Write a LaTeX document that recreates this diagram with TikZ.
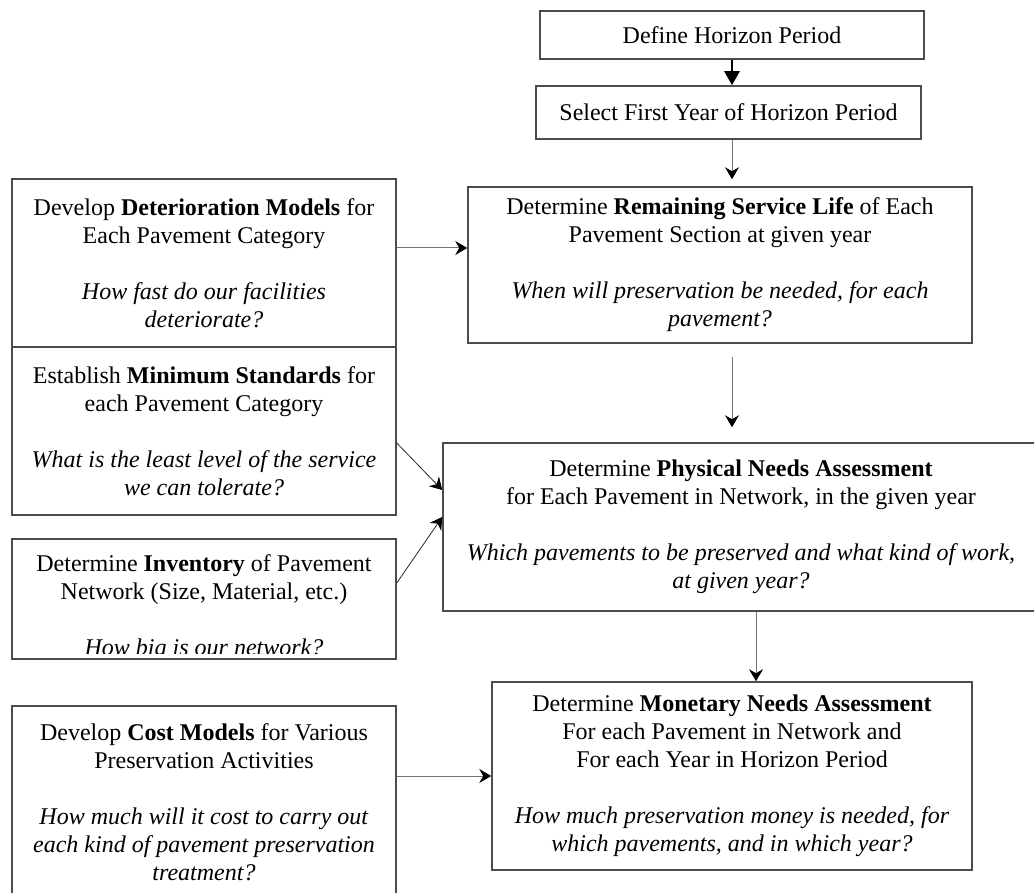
\documentclass[tikz,border=0pt]{standalone}
\usepackage{fontspec}
\setmainfont{Liberation Serif}
\usetikzlibrary{arrows.meta,positioning}

\begin{document}
\begin{tikzpicture}[x=0.5pt,y=-0.5pt,>={Stealth[length=6pt,width=7pt,inset=2pt,color=black]},
  box/.style={draw=black!70,line width=0.75pt,align=center,inner sep=0pt,font=\fontsize{12}{14}\selectfont},
  line/.style={draw=black!55,line width=0.5pt},
  diag/.style={draw=black!85,line width=0.4pt}]
\useasboundingbox (0,0) rectangle (1034,893);
          \node[box,minimum width=192pt,minimum height=24pt] (n_1) at (732,35) {Define Horizon Period};
          \node[box,minimum width=192.5pt,minimum height=26.5pt] (n_2) at (728.5,112.5) {Select First Year of Horizon Period};
          \node[box,minimum width=192pt,minimum height=84pt] (n_3) at (204,263) {Develop \textbf{Deterioration Models} for\\Each Pavement Category\\[14pt]\textit{How fast do our facilities}\\\textit{deteriorate?}};
          \node[box,minimum width=252pt,minimum height=78pt] (n_4) at (720,265) {Determine \textbf{Remaining Service Life} of Each\\Pavement Section at given year\\[14pt]\textit{When will preservation be needed, for each}\\\textit{pavement?}};
          \node[box,minimum width=192pt,minimum height=84pt] (n_5) at (204,431) {Establish \textbf{Minimum Standards} for\\each Pavement Category\\[14pt]\textit{What is the least level of the service}\\\textit{we can tolerate?}};
          \node[box,minimum width=298pt,minimum height=84pt] (n_6) at (741,527) {Determine \textbf{Physical Needs Assessment}\\for Each Pavement in Network, in the given year\\[14pt]\textit{Which pavements to be preserved and what kind of work,}\\\textit{at given year?}};
          \node[box,minimum width=192pt,minimum height=60pt] (n_7) at (204,599) {};
          \begin{scope}
            \clip (n_7.north west) rectangle ([yshift=3pt]n_7.south east);
            \node[box,draw=none,anchor=north] (n_7t) at ([yshift=-8pt]n_7.north) {Determine \textbf{Inventory} of Pavement\\Network (Size, Material, etc.)\\[14pt]\textit{How big is our network?}};
          \end{scope}
          \node[box,minimum width=240pt,minimum height=94pt] (n_8) at (732,776) {Determine \textbf{Monetary Needs Assessment}\\For each Pavement in Network and\\For each Year in Horizon Period\\[14pt]\textit{How much preservation money is needed, for}\\\textit{which pavements, and in which year?}};
          \node[box,minimum width=192pt,minimum height=96pt] (n_9) at (204,802) {Develop \textbf{Cost Models} for Various\\Preservation Activities\\[14pt]\textit{How much will it cost to carry out}\\\textit{each kind of pavement preservation}\\\textit{treatment?}};

          \draw[line width=1.3pt,-{Triangle[length=7pt,width=7.5pt]}] (n_1.south) -- (n_1.south |- n_2.north);
          \draw[line,->,shorten >=3.5pt] (n_1.south |- n_2.south) -- (n_1.south |- n_4.north);
          \draw[line,->] ([yshift=7.5pt]n_3.east) -- ([yshift=7.5pt]n_3.east -| n_4.west);
          \draw[line,->,shorten <=6.5pt,shorten >=7.5pt] (n_1.south |- n_4.south) -- (n_1.south |- n_6.north);
          \draw[diag,->] ([yshift=-6pt]n_5.east) -- ([yshift=18.5pt]n_6.west);
          \draw[diag,->] ([yshift=8pt]n_7.east) -- ([yshift=5pt]n_6.west);
          \draw[line,->] ([xshift=12pt]n_8.north |- n_6.south) -- ([xshift=12pt]n_8.north);
          \draw[line,->] (n_9.east |- n_8.west) -- (n_8.west);
        \end{tikzpicture}
\end{document}
